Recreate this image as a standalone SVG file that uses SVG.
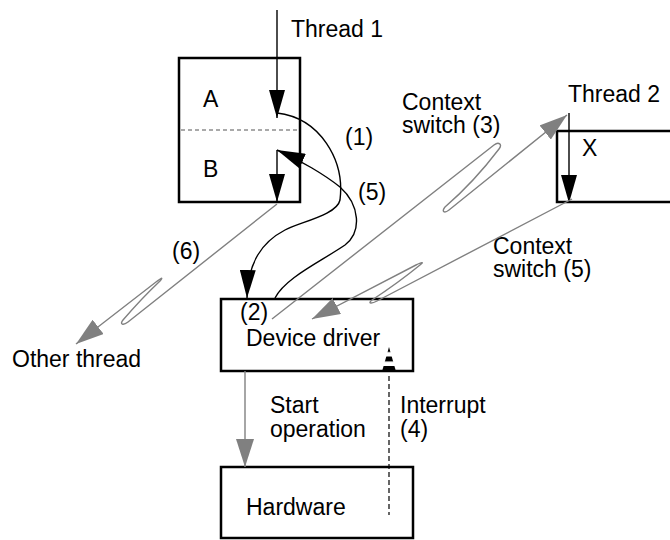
<svg xmlns="http://www.w3.org/2000/svg" width="670" height="540" viewBox="0 0 670 540">
  <style>
    text { font-family: "Liberation Sans", Arial, Helvetica, sans-serif; font-size: 23px; fill: #000; }
    .box { fill: #fff; stroke: #000; stroke-width: 2.5; }
    .blk { fill: none; stroke: #000; stroke-width: 1.4; }
    .gry { fill: none; stroke: #808080; stroke-width: 1.4; }
  </style>
  <defs>
    <marker id="ab" markerUnits="userSpaceOnUse" markerWidth="28" markerHeight="16" refX="28" refY="8" orient="auto" viewBox="0 0 28 16">
      <path d="M0,0 L28,8 L0,16 Z" fill="#000"/>
    </marker>
    <marker id="ag" markerUnits="userSpaceOnUse" markerWidth="28" markerHeight="18" refX="28" refY="9" orient="auto" viewBox="0 0 28 18">
      <path d="M0,0 L28,9 L0,18 Z" fill="#808080"/>
    </marker>
    <pattern id="stripes" patternUnits="userSpaceOnUse" x="0" y="347" width="20" height="9.5">
      <rect x="0" y="0" width="20" height="5" fill="#000"/>
    </pattern>
  </defs>

  <g id="box-ab">
    <rect class="box" x="179" y="58" width="121" height="144"/>
    <line x1="181" y1="130" x2="298" y2="130" stroke="#555" stroke-width="1.2" stroke-dasharray="4 3"/>
    <text x="203" y="107">A</text>
    <text x="203" y="177">B</text>
  </g>

  <g id="thread2-box">
    <rect class="box" x="557" y="131" width="130" height="71"/>
    <text x="582" y="156">X</text>
  </g>

  <g id="device-driver">
    <rect class="box" x="221" y="299" width="192" height="72"/>
    <text x="240" y="320">(2)</text>
    <text x="246" y="346">Device driver</text>
  </g>

  <g id="hardware">
    <rect class="box" x="221" y="467" width="192" height="71"/>
    <text x="246" y="515">Hardware</text>
  </g>

  <g id="labels">
    <text x="291" y="37">Thread 1</text>
    <text x="568" y="102">Thread 2</text>
    <text x="345" y="145">(1)</text>
    <text x="358" y="200">(5)</text>
    <text x="402" y="110">Context</text>
    <text x="402" y="133">switch (3)</text>
    <text x="493" y="254">Context</text>
    <text x="493" y="277">switch (5)</text>
    <text x="172" y="259">(6)</text>
    <text x="12" y="367">Other thread</text>
    <text x="270" y="413">Start</text>
    <text x="270" y="437">operation</text>
    <text x="400" y="413">Interrupt</text>
    <text x="400" y="437">(4)</text>
  </g>

  <g id="connectors">
    <path class="blk" d="M277,10 L277,118" marker-end="url(#ab)"/>
    <path class="blk" d="M277,150 L277,202" marker-end="url(#ab)"/>
    <path class="blk" d="M569,113 L569,203" marker-end="url(#ab)"/>
    <path class="blk" d="M277,113 C320,118 345,160 340,200 C337,215 300,222 285,230 C262,242 248,262 247,298" marker-end="url(#ab)"/>
    <path class="blk" d="M275,298 C285,278 320,262 345,245 C362,232 360,205 340,187 C325,175 300,160 277,150" marker-end="url(#ab)"/>
    <path class="gry" d="M272,319 L494,145 C498.7,141.3 502.8,144.3 499,149 Q474,182 445,207 C441.2,211.7 444.3,213.7 449,210 L567,115" marker-end="url(#ag)"/>
    <path class="gry" d="M572,199 L377,301 C371.7,303.8 367.3,303.7 372,300 Q398,283 420,265 C424.8,261.4 421.4,262.3 416,265 L312,319" marker-end="url(#ag)"/>
    <path class="gry" d="M277,204 L128,322 C123.3,325.7 119.2,324.7 123,320 Q142,298 160,281 C163.8,276.3 160.8,278.4 156,282 L76,344" marker-end="url(#ag)"/>
    <path class="gry" d="M245,371 L245,467" marker-end="url(#ag)"/>
    <line x1="389" y1="376" x2="389" y2="515" stroke="#000" stroke-width="1.2" stroke-dasharray="5 3"/>
    <path d="M389,347 L397,375 L381,375 Z" fill="url(#stripes)"/>
  </g>
</svg>
